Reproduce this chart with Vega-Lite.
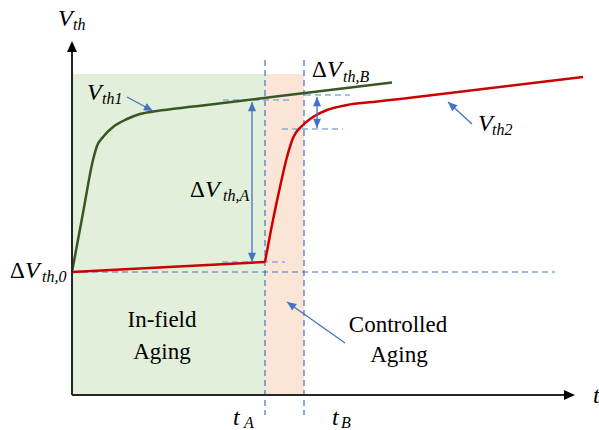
{
  "$schema": "https://vega.github.io/schema/vega-lite/v6.json",
  "width": 599,
  "height": 430,
  "autosize": {"type": "none"},
  "padding": 0,
  "background": "white",
  "config": {"view": {"stroke": null}},
  "datasets": {
    "phases": [
      {"phase": "In-field", "t": 0, "t2": 193, "V": 0, "V2": 321},
      {"phase": "Controlled", "t": 193, "t2": 232, "V": 0, "V2": 321}
    ],
    "markers": [
      {"name": "tA", "t": 193, "t2": 193, "V": 335, "V2": -20},
      {"name": "tB", "t": 232, "t2": 232, "V": 335, "V2": -20},
      {"name": "Vth0", "t": 0, "t2": 483, "V": 123, "V2": 123}
    ],
    "levels": [
      {"name": "Vth2 at tA", "t": 150, "t2": 213, "V": 133, "V2": 133},
      {"name": "Vth1 at tA", "t": 151, "t2": 221, "V": 295, "V2": 295},
      {"name": "Vth1 at tB", "t": 233, "t2": 278, "V": 300, "V2": 300},
      {"name": "Vth2 at tB", "t": 210, "t2": 271, "V": 266, "V2": 266}
    ],
    "curves": [
      {"curve": "Vth1", "segment": "g", "t": 0, "V": 123},
      {"curve": "Vth1", "segment": "g", "t": 11, "V": 182},
      {"curve": "Vth1", "segment": "g", "t": 21, "V": 235},
      {"curve": "Vth1", "segment": "g", "t": 25, "V": 249},
      {"curve": "Vth1", "segment": "g", "t": 31, "V": 258},
      {"curve": "Vth1", "segment": "g", "t": 41, "V": 268},
      {"curve": "Vth1", "segment": "g", "t": 55, "V": 276},
      {"curve": "Vth1", "segment": "g", "t": 68, "V": 281},
      {"curve": "Vth1", "segment": "g", "t": 85, "V": 284},
      {"curve": "Vth1", "segment": "g", "t": 121, "V": 288.4},
      {"curve": "Vth1", "segment": "g", "t": 208, "V": 299},
      {"curve": "Vth1", "segment": "g", "t": 320, "V": 312.5},
      {"curve": "Vth2", "segment": "r1", "t": 0, "V": 123},
      {"curve": "Vth2", "segment": "r1", "t": 193, "V": 133},
      {"curve": "Vth2", "segment": "r2", "t": 193, "V": 133},
      {"curve": "Vth2", "segment": "r2", "t": 201, "V": 175},
      {"curve": "Vth2", "segment": "r2", "t": 208, "V": 208},
      {"curve": "Vth2", "segment": "r2", "t": 215, "V": 238},
      {"curve": "Vth2", "segment": "r2", "t": 221, "V": 257},
      {"curve": "Vth2", "segment": "r2", "t": 231, "V": 270},
      {"curve": "Vth2", "segment": "r2", "t": 241, "V": 278},
      {"curve": "Vth2", "segment": "r2", "t": 255, "V": 285},
      {"curve": "Vth2", "segment": "r2", "t": 275, "V": 290},
      {"curve": "Vth2", "segment": "r2", "t": 301, "V": 293},
      {"curve": "Vth2", "segment": "r2", "t": 328, "V": 296},
      {"curve": "Vth2", "segment": "r2", "t": 511, "V": 318}
    ],
    "pointers": [
      {"name": "dVthA", "t": 180, "t2": 180, "V": 133, "V2": 293},
      {"name": "dVthB", "t": 245, "t2": 245, "V": 267, "V2": 298},
      {"name": "Vth1", "t": 55, "t2": 81, "V": 298, "V2": 284},
      {"name": "Vth2", "t": 400, "t2": 376, "V": 271, "V2": 293},
      {"name": "Controlled", "t": 273, "t2": 215, "V": 52, "V2": 93}
    ],
    "heads": [
      {"name": "dVthA top", "t": 180, "V": 293, "heading": 0},
      {"name": "dVthA bottom", "t": 180, "V": 133, "heading": 180},
      {"name": "dVthB top", "t": 245, "V": 298, "heading": 0},
      {"name": "dVthB bottom", "t": 245, "V": 267, "heading": 180},
      {"name": "Vth1", "t": 81, "V": 284, "heading": 118},
      {"name": "Vth2", "t": 376, "V": 293, "heading": 312},
      {"name": "Controlled", "t": 215, "V": 93, "heading": 305}
    ],
    "axes": [
      {"name": "V axis", "t": 0, "t2": 0, "V": 0, "V2": 346},
      {"name": "t axis", "t": 0, "t2": 496, "V": 0, "V2": 0}
    ],
    "axisheads": [
      {"name": "V axis", "t": 0, "V": 354, "heading": 0},
      {"name": "t axis", "t": 503, "V": 0, "heading": 90}
    ],
    "deltas": [
      {"label": "Δ", "t": 118, "V": 198},
      {"label": "Δ", "t": -62, "V": 117},
      {"label": "Δ", "t": 240, "V": 318}
    ],
    "symbols": [
      {"label": "V", "t": 133, "V": 198},
      {"label": "V", "t": -47, "V": 117},
      {"label": "V", "t": 255, "V": 318},
      {"label": "V", "t": -14, "V": 369},
      {"label": "V", "t": 15, "V": 295},
      {"label": "V", "t": 406, "V": 264},
      {"label": "t", "t": 521, "V": -8},
      {"label": "t", "t": 161, "V": -30},
      {"label": "t", "t": 260, "V": -30}
    ],
    "subs": [
      {"label": "th,A", "t": 151, "V": 194},
      {"label": "th,0", "t": -30, "V": 113},
      {"label": "th,B", "t": 271, "V": 313},
      {"label": "th", "t": 1, "V": 365},
      {"label": "th1", "t": 30, "V": 291},
      {"label": "th2", "t": 420, "V": 260},
      {"label": "A", "t": 172, "V": -33},
      {"label": "B", "t": 269, "V": -33}
    ],
    "phaselabels": [
      {"label": "In-field", "t": 90, "V": 68},
      {"label": "Aging", "t": 90, "V": 36},
      {"label": "Controlled", "t": 326, "V": 63},
      {"label": "Aging", "t": 327, "V": 33}
    ]
  },
  "encoding": {
    "x": {"field": "t", "type": "quantitative", "axis": null, "scale": {"domain": [-72, 527], "nice": false, "zero": false}},
    "y": {"field": "V", "type": "quantitative", "axis": null, "scale": {"domain": [-35, 395], "nice": false, "zero": false}}
  },
  "layer": [
    {
      "data": {"name": "phases"},
      "mark": {"type": "rect", "strokeWidth": 0},
      "encoding": {
        "x2": {"field": "t2"},
        "y2": {"field": "V2"},
        "fill": {"field": "phase", "type": "nominal", "legend": null, "scale": {"domain": ["In-field", "Controlled"], "range": ["#e2efda", "#fbe5d6"]}}
      }
    },
    {
      "data": {"name": "markers"},
      "mark": {"type": "rule", "color": "#4472c4", "strokeWidth": 1.2, "strokeDash": [6, 4]},
      "encoding": {"x2": {"field": "t2"}, "y2": {"field": "V2"}}
    },
    {
      "data": {"name": "levels"},
      "mark": {"type": "rule", "color": "#8eaadb", "strokeWidth": 1.5, "strokeDash": [6, 4]},
      "encoding": {"x2": {"field": "t2"}, "y2": {"field": "V2"}}
    },
    {
      "data": {"name": "curves"},
      "mark": {"type": "line", "interpolate": "monotone", "strokeWidth": 2.5},
      "encoding": {
        "stroke": {"field": "curve", "type": "nominal", "legend": null, "scale": {"domain": ["Vth1", "Vth2"], "range": ["#385723", "#cc0000"]}},
        "detail": {"field": "segment"},
        "order": {"field": "t", "type": "quantitative"}
      }
    },
    {
      "data": {"name": "pointers"},
      "mark": {"type": "rule", "color": "#4472c4", "strokeWidth": 1.3},
      "encoding": {"x2": {"field": "t2"}, "y2": {"field": "V2"}}
    },
    {
      "data": {"name": "heads"},
      "mark": {"type": "point", "shape": "M0,0L-1,2.3L1,2.3Z", "filled": true, "color": "#4472c4", "opacity": 1, "size": 64, "strokeWidth": 0},
      "encoding": {"angle": {"field": "heading", "type": "quantitative", "scale": {"domain": [0, 360], "range": [0, 360]}}}
    },
    {
      "data": {"name": "axes"},
      "mark": {"type": "rule", "color": "#262626", "strokeWidth": 2},
      "encoding": {"x2": {"field": "t2"}, "y2": {"field": "V2"}}
    },
    {
      "data": {"name": "axisheads"},
      "mark": {"type": "point", "shape": "M0,0L-1,2.2L1,2.2Z", "filled": true, "color": "#000000", "opacity": 1, "size": 100, "strokeWidth": 0},
      "encoding": {"angle": {"field": "heading", "type": "quantitative", "scale": {"domain": [0, 360], "range": [0, 360]}}}
    },
    {
      "data": {"name": "deltas"},
      "mark": {"type": "text", "font": "Liberation Serif", "fontSize": 23, "align": "left", "baseline": "alphabetic", "color": "#000000"},
      "encoding": {"text": {"field": "label"}}
    },
    {
      "data": {"name": "symbols"},
      "mark": {"type": "text", "font": "Liberation Serif", "fontStyle": "italic", "fontSize": 24, "align": "left", "baseline": "alphabetic", "color": "#000000"},
      "encoding": {"text": {"field": "label"}}
    },
    {
      "data": {"name": "subs"},
      "mark": {"type": "text", "font": "Liberation Serif", "fontStyle": "italic", "fontSize": 16, "align": "left", "baseline": "alphabetic", "color": "#000000"},
      "encoding": {"text": {"field": "label"}}
    },
    {
      "data": {"name": "phaselabels"},
      "mark": {"type": "text", "font": "Liberation Serif", "fontSize": 23, "align": "center", "baseline": "alphabetic", "color": "#000000"},
      "encoding": {"text": {"field": "label"}}
    }
  ]
}
